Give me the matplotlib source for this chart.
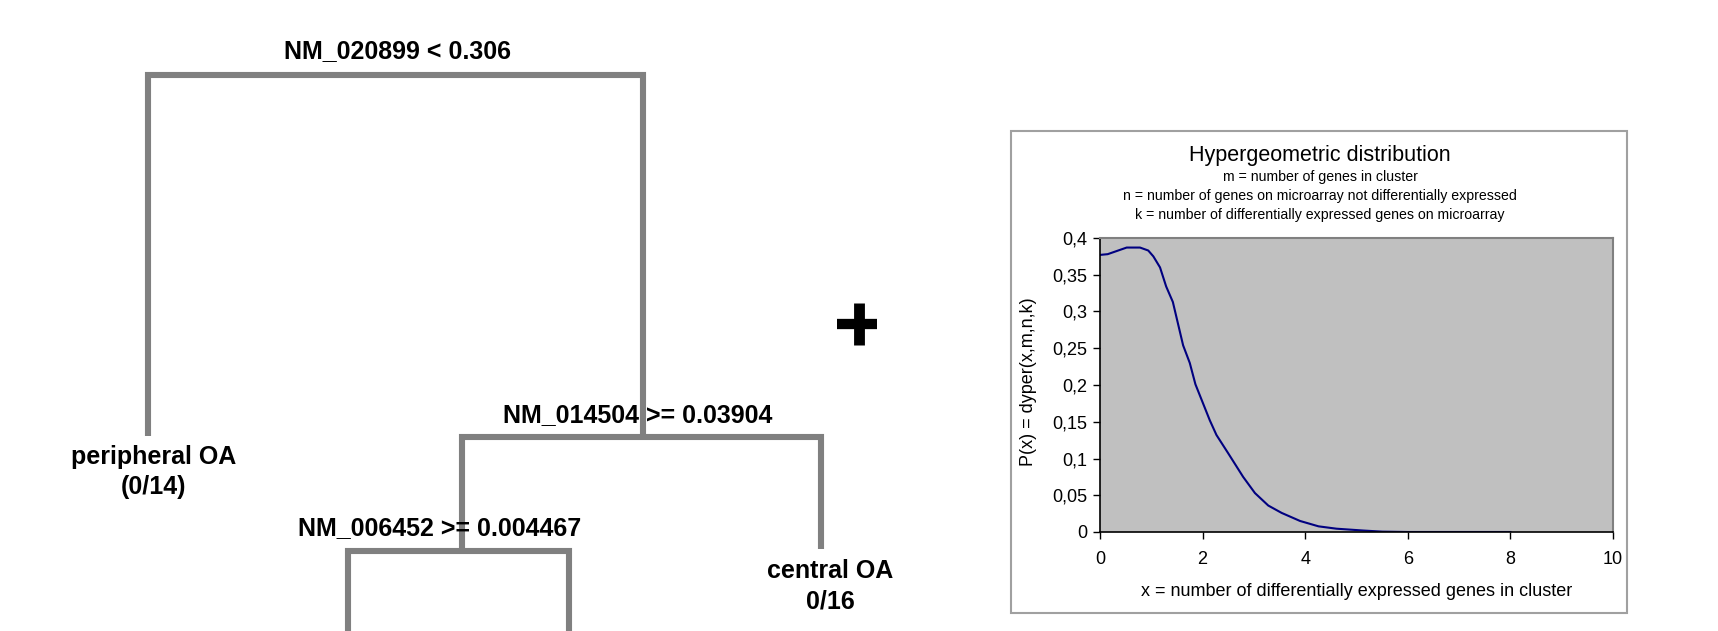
import matplotlib
matplotlib.use("Agg")
import matplotlib.pyplot as plt
from matplotlib.patches import Rectangle
from matplotlib.ticker import FuncFormatter, MultipleLocator

W, H = 1718, 631

# decision tree (pixel layout of the left half)
split_labels = ["NM_020899 < 0.306", "NM_014504 >= 0.03904", "NM_006452 >= 0.004467"]
split_y = [75, 437, 551]
split_left_x = [148, 462, 348]
split_right_x = [643, 821, 569]
split_left_end = [436, 551, 660]
split_right_end = [437, 549, 660]
split_label_pos = [(397, 51), (638, 415), (440, 528)]

leaf_labels = ["peripheral OA\n(0/14)", "central OA\n0/16"]
leaf_pos = [(154, 472), (830, 586)]

# hypergeometric curve
curve_x = [0, 0.15, 0.52, 0.78, 0.94, 1.04, 1.17, 1.29, 1.42, 1.62, 1.75, 1.86,
           2.14, 2.27, 2.50, 2.79, 3.02, 3.28, 3.54, 3.90, 4.26, 4.61, 5.13, 5.5,
           6, 7, 8]
curve_y = [0.377, 0.378, 0.387, 0.387, 0.383, 0.375, 0.360, 0.334, 0.313, 0.254,
           0.230, 0.201, 0.152, 0.132, 0.107, 0.075, 0.053, 0.036, 0.026, 0.015,
           0.0077, 0.0045, 0.002, 0.0005, 0, 0, 0]

title = "Hypergeometric distribution"
subtitles = ["m = number of genes in cluster",
             "n = number of genes on microarray not differentially expressed",
             "k = number of differentially expressed genes on microarray"]
subtitle_y = [177, 196, 215]

plt.rcParams['font.family'] = ['Liberation Sans', 'DejaVu Sans']

fig = plt.figure(figsize=(W / 100, H / 100), dpi=100)

# overlay in pixel coordinates
ov = fig.add_axes([0, 0, 1, 1])
ov.set_xlim(0, W)
ov.set_ylim(H, 0)
ov.axis('off')

tree_grey = '#808080'
for i in range(len(split_labels)):
    ov.plot([split_left_x[i], split_left_x[i], split_right_x[i], split_right_x[i]],
            [split_left_end[i], split_y[i], split_y[i], split_right_end[i]],
            color=tree_grey, lw=4.4, solid_joinstyle='miter', solid_capstyle='butt')
    ov.text(split_label_pos[i][0], split_label_pos[i][1], split_labels[i],
            ha='center', va='center', fontsize=18, fontweight='bold')

for lab, (lx, ly) in zip(leaf_labels, leaf_pos):
    ov.text(lx, ly, lab, ha='center', va='center', fontsize=18,
            fontweight='bold', linespacing=1.32)

# plus sign
ov.plot([837, 877], [324, 324], color='black', lw=7.4, solid_capstyle='butt')
ov.plot([859, 859], [303, 345], color='black', lw=7.8, solid_capstyle='butt')

# chart frame
ov.add_patch(Rectangle((1011, 131), 616, 482, facecolor='white',
                       edgecolor='#a0a0a0', lw=1.5))
ov.text(1320, 155, title, ha='center', va='center', fontsize=15.5)
for s, sy in zip(subtitles, subtitle_y):
    ov.text(1320, sy, s, ha='center', va='center', fontsize=10.2,
            family=['Liberation Sans Narrow', 'Liberation Sans'])

ax = fig.add_axes([1100 / W, 1 - 532 / H, 513 / W, 294 / H])
ax.set_facecolor('#c0c0c0')
ax.plot(curve_x, curve_y, color='#000080', lw=1.5)
ax.set_xlim(0, 10)
ax.set_ylim(0, 0.4)
ax.xaxis.set_major_locator(MultipleLocator(2))
ax.yaxis.set_major_locator(MultipleLocator(0.05))
fmt = FuncFormatter(lambda v, p: ('%g' % round(v, 3)).replace('.', ','))
ax.xaxis.set_major_formatter(fmt)
ax.yaxis.set_major_formatter(fmt)
ax.tick_params(direction='out', length=5, width=1, labelsize=13, colors='black')
ax.tick_params(axis='x', pad=9)
ax.tick_params(axis='y', pad=4)
for side in ['top', 'right']:
    ax.spines[side].set_color('#808080')
    ax.spines[side].set_linewidth(1.5)
for side in ['left', 'bottom']:
    ax.spines[side].set_color('black')
    ax.spines[side].set_linewidth(1.2)

ax.set_xlabel("x = number of differentially expressed genes in cluster", fontsize=13)
ax.xaxis.set_label_coords(0.501, -0.204)
ax.xaxis.label.set_va('center')
ax.set_ylabel("P(x) = dyper(x,m,n,k)", fontsize=13)
ax.yaxis.set_label_coords(-0.140, 0.51)
ax.yaxis.label.set_va('center')

fig.savefig('out.png', dpi=100)
